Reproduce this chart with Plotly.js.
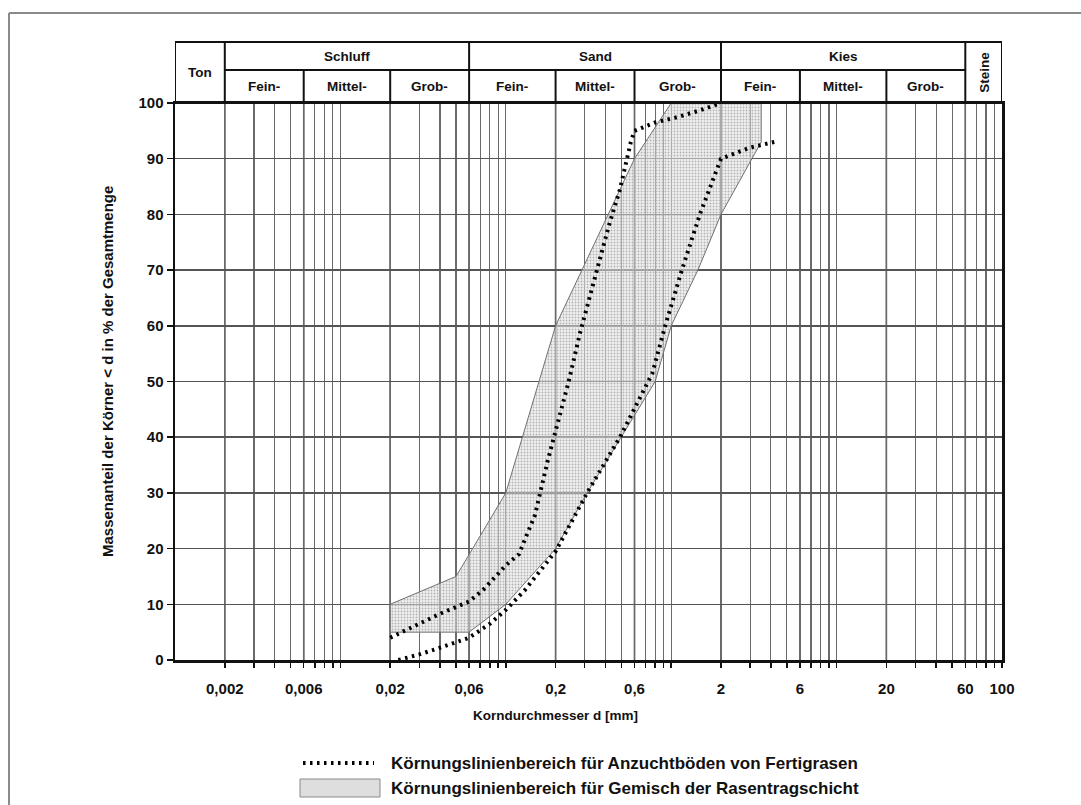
<!DOCTYPE html>
<html>
<head>
<meta charset="utf-8">
<script src="https://cdn.plot.ly/plotly-3.0.1.min.js"></script>
<style>html,body{margin:0;padding:0;background:#fff;}#chart{width:1081px;height:805px;}</style>
</head>
<body>
<div id="chart"></div>
<script>
// ---- data ----
const bandX = [0.02, 0.02, 0.05, 0.1, 0.2, 0.6, 1, 3.5, 3.5, 2, 1.45, 1, 0.8, 0.5, 0.31, 0.2, 0.1, 0.06, 0.02];
const bandY = [5, 10, 15, 30, 60, 90, 100, 100, 93, 80, 70, 60, 50, 40, 30, 20, 10, 5, 5];

const curveAX = [0.02, 0.03, 0.04, 0.06, 0.073, 0.09, 0.1, 0.12, 0.15, 0.18, 0.2, 0.24, 0.28, 0.34, 0.42, 0.49, 0.57, 0.6, 0.8, 1.1, 1.5, 2];
const curveAY = [4, 6.5, 8.3, 10.5, 12.6, 15.5, 17, 19, 26, 36, 41, 50, 58.5, 68, 78, 84.5, 93, 95, 96.5, 97.5, 98.7, 100];

const curveBX = [0.0224, 0.03, 0.04, 0.06, 0.08, 0.1, 0.13, 0.2, 0.31, 0.49, 0.77, 0.92, 1.16, 1.49, 2, 3, 4.2];
const curveBY = [0, 1, 2.2, 4, 6.5, 9, 12.5, 19.5, 30, 40, 51.5, 60, 70, 80, 90, 92, 93];

const tickLabelVals = [0.002, 0.006, 0.02, 0.06, 0.2, 0.6, 2, 6, 20, 60, 100];
const tickLabelText = ['0,002', '0,006', '0,02', '0,06', '0,2', '0,6', '2', '6', '20', '60', '100'];

const groupNames = ['Ton', 'Schluff', 'Sand', 'Kies', 'Steine'];
const groupBounds = [0.001, 0.002, 0.06, 2, 60, 100];
const subNames = ['Fein-', 'Mittel-', 'Grob-'];
const subBounds = [[0.002, 0.006, 0.02, 0.06], [0.06, 0.2, 0.6, 2], [2, 6, 20, 60]];

const legendText = ['Körnungslinienbereich für Anzuchtböden von Fertigrasen', 'Körnungslinienbereich für Gemisch der Rasentragschicht'];
const xTitle = 'Korndurchmesser d [mm]';
const yTitle = 'Massenanteil der Körner &lt; d in % der Gesamtmenge';

// ---- layout helpers ----
const FONT = 'Liberation Sans, Arial, sans-serif';
const yMid = 1 + 33 / 557;
const yTop = 1 + 61 / 557;
const DOTS = '2.5px,4.5px';

// grid positions: k*10^n
const gridVals = [];
for (let n = -3; n <= 1; n++) {
  for (let k = 1; k <= 9; k++) {
    const v = parseFloat((k * Math.pow(10, n)).toPrecision(6));
    if (v > 0.001) gridVals.push(v);
  }
}
gridVals.push(100);
const gridText = gridVals.map(v => {
  const i = tickLabelVals.findIndex(t => Math.abs(t - v) / t < 1e-6);
  return i >= 0 ? tickLabelText[i] : '';
});

const shapes = [];
const annotations = [];
const lineBlack = {color: '#111', width: 2};

// header frame
shapes.push({type: 'rect', xref: 'x', yref: 'paper', x0: 0.001, x1: 100, y0: 1, y1: yTop, line: lineBlack, fillcolor: 'rgba(0,0,0,0)'});
shapes.push({type: 'line', xref: 'x', yref: 'paper', x0: 0.002, x1: 60, y0: yMid, y1: yMid, line: lineBlack});
for (let i = 1; i < groupBounds.length - 1; i++) {
  shapes.push({type: 'line', xref: 'x', yref: 'paper', x0: groupBounds[i], x1: groupBounds[i], y0: 1, y1: yTop, line: lineBlack});
  shapes.push({type: 'line', xref: 'x', yref: 'paper', x0: groupBounds[i], x1: groupBounds[i], y0: 0, y1: 1, line: {color: '#222', width: 1.5}, layer: 'below'});
}
subBounds.forEach(b => {
  for (let j = 1; j < b.length - 1; j++) {
    shapes.push({type: 'line', xref: 'x', yref: 'paper', x0: b[j], x1: b[j], y0: 1, y1: yMid, line: lineBlack});
    shapes.push({type: 'line', xref: 'x', yref: 'paper', x0: b[j], x1: b[j], y0: 0, y1: 1, line: {color: '#222', width: 1.5}, layer: 'below'});
  }
});

const hdrFont = {family: FONT, size: 13.5, color: '#111', weight: 'bold'};
const gm = (a, b) => Math.log10(Math.sqrt(a * b));
const ann = (o) => Object.assign({showarrow: false, xanchor: 'center', yanchor: 'middle'}, o);
groupNames.forEach((name, i) => {
  const a = groupBounds[i], b = groupBounds[i + 1];
  if (name === 'Ton') {
    annotations.push(ann({xref: 'x', yref: 'paper', x: gm(a, b), y: 1 + 31 / 557, text: name, font: hdrFont}));
  } else if (name === 'Steine') {
    annotations.push(ann({xref: 'x', yref: 'paper', x: gm(a, b), y: 1 + 31 / 557, text: name, font: hdrFont, textangle: -90}));
  } else {
    annotations.push(ann({xref: 'x', yref: 'paper', x: gm(a, b), y: 1 + 47 / 557, text: name, font: hdrFont}));
  }
});
subBounds.forEach(b => {
  for (let j = 0; j < 3; j++) {
    annotations.push(ann({xref: 'x', yref: 'paper', x: gm(b[j], b[j + 1]), y: 1 + 17 / 557, text: subNames[j], font: hdrFont}));
  }
});

// axis titles
annotations.push(ann({xref: 'paper', yref: 'paper', x: (555 - 175) / 827, y: (660 - 715) / 557, text: xTitle, font: {family: FONT, size: 13.5, color: '#111', weight: 'bold'}}));
annotations.push(ann({xref: 'paper', yref: 'paper', x: (107 - 175) / 827, y: (660 - 372) / 557, text: yTitle, textangle: -90, font: {family: FONT, size: 15, color: '#111', weight: 'bold'}}));

// outer gray frame (left and top)
shapes.push({type: 'line', xref: 'paper', yref: 'paper', x0: -166 / 827, x1: -166 / 827, y0: 1 + 90 / 557, y1: -0.3, line: {color: '#8a8a8a', width: 2}});
shapes.push({type: 'line', xref: 'paper', yref: 'paper', x0: -166 / 827, x1: 1.2, y0: 1 + 90 / 557, y1: 1 + 90 / 557, line: {color: '#8a8a8a', width: 2}});

// custom legend
const lx0 = (303 - 175) / 827, lx1 = (374 - 175) / 827, ltx = (389 - 175) / 827;
const ly1 = (660 - 763) / 557, ly2 = (660 - 788) / 557;
shapes.push({type: 'line', xref: 'paper', yref: 'paper', x0: lx0, x1: lx1, y0: ly1, y1: ly1, line: {color: '#000', width: 4, dash: DOTS}});
shapes.push({type: 'rect', xref: 'paper', yref: 'paper', x0: (300 - 175) / 827, x1: (380 - 175) / 827, y0: (660 - 779) / 557, y1: (660 - 797) / 557, line: {color: '#888', width: 1}, fillcolor: '#dedede'});
const legFont = {family: FONT, size: 17, color: '#111', weight: 'bold'};
annotations.push(ann({xref: 'paper', yref: 'paper', x: ltx, y: ly1, xanchor: 'left', text: legendText[0], font: legFont}));
annotations.push(ann({xref: 'paper', yref: 'paper', x: ltx, y: ly2, xanchor: 'left', text: legendText[1], font: legFont}));

const traces = [
  {
    x: bandX, y: bandY, type: 'scatter', mode: 'lines', fill: 'toself',
    fillcolor: 'rgba(190,190,190,0.45)',
    fillpattern: {shape: '.', size: 3, solidity: 0.3, fgcolor: '#b4b4b4', bgcolor: 'rgba(224,224,224,0.5)'},
    line: {color: '#707070', width: 1}, name: legendText[1], showlegend: false, hoverinfo: 'skip'
  },
  {
    x: curveAX, y: curveAY, type: 'scatter', mode: 'lines',
    line: {color: '#000', width: 4, dash: DOTS}, name: legendText[0], showlegend: false
  },
  {
    x: curveBX, y: curveBY, type: 'scatter', mode: 'lines',
    line: {color: '#000', width: 4, dash: DOTS}, name: legendText[0], showlegend: false
  }
];

const layout = {
  width: 1081, height: 805,
  margin: {l: 175, r: 79, t: 103, b: 145, pad: 0},
  paper_bgcolor: '#fff', plot_bgcolor: '#fff',
  showlegend: false,
  font: {family: FONT, size: 13, color: '#111'},
  xaxis: {
    type: 'log', range: [-3, 2], autorange: false,
    tickmode: 'array', tickvals: gridVals, ticktext: gridText,
    ticks: 'outside', ticklen: 5, tickwidth: 1.5, tickcolor: '#111',
    ticklabelstandoff: 8,
    tickfont: {family: FONT, size: 15, color: '#111', weight: 'bold'},
    showgrid: true, gridcolor: '#6a6a6a', gridwidth: 1.2,
    showline: true, linecolor: '#111', linewidth: 2.5, mirror: true,
    zeroline: false
  },
  yaxis: {
    range: [0, 100], autorange: false, dtick: 10, tick0: 0,
    ticks: 'outside', ticklen: 6, tickwidth: 1.5, tickcolor: '#111',
    tickfont: {family: FONT, size: 15, color: '#111', weight: 'bold'},
    showgrid: true, gridcolor: '#555', gridwidth: 1.5,
    showline: true, linecolor: '#111', linewidth: 2.5, mirror: true,
    zeroline: false
  },
  shapes: shapes,
  annotations: annotations
};

Plotly.newPlot('chart', traces, layout, {staticPlot: true, displayModeBar: false});
</script>
</body>
</html>
